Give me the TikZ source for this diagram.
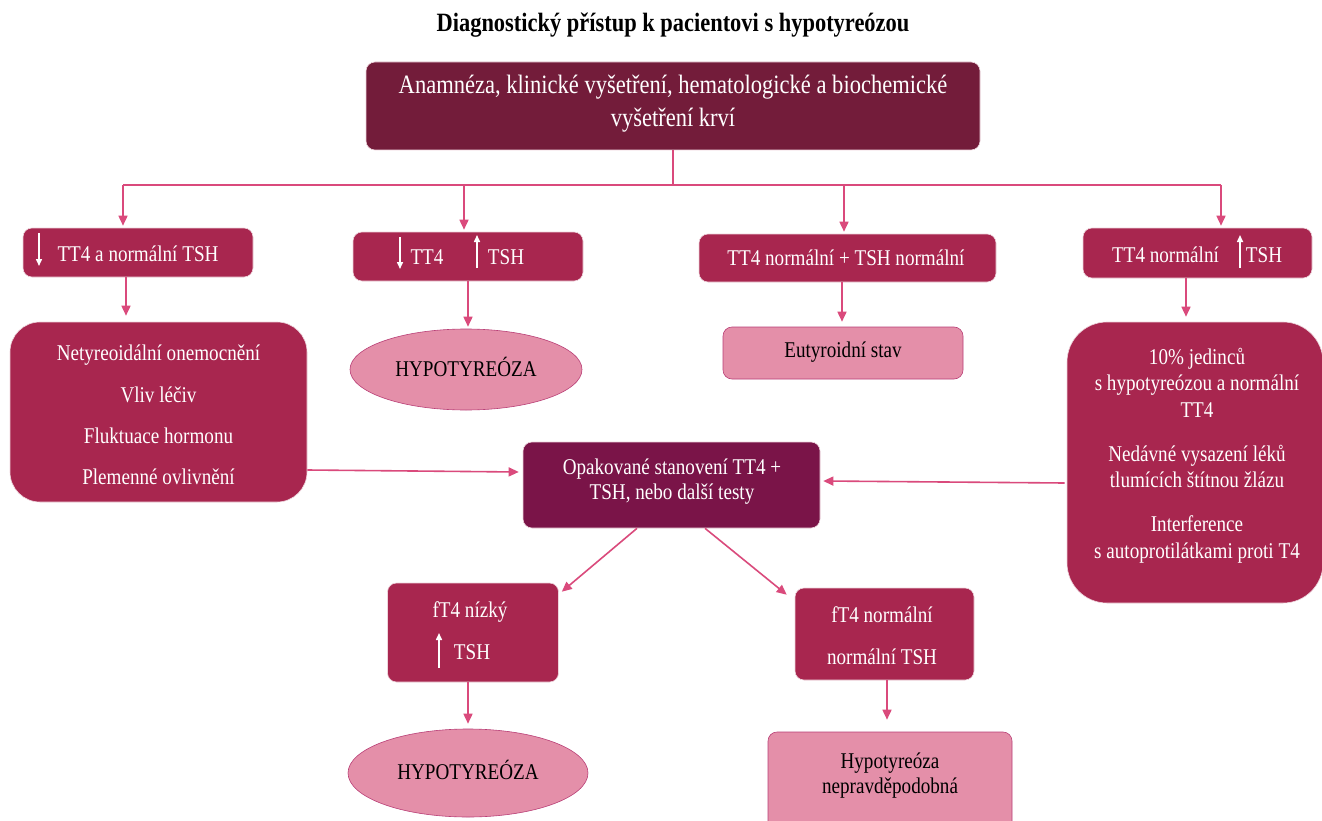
\documentclass[tikz,border=0pt]{standalone}
\usepackage{fontspec}
\setmainfont{Liberation Serif}[FakeStretch=0.85]
\usetikzlibrary{arrows.meta,shapes.geometric,calc}
\definecolor{topc}{HTML}{731C3A}
\definecolor{midc}{HTML}{A8264F}
\definecolor{cenc}{HTML}{7A1448}
\definecolor{lightc}{HTML}{E48FA9}
\definecolor{lightedge}{HTML}{B93F76}
\definecolor{arrc}{HTML}{DA4A7C}
\tikzset{
  basebox/.style={rounded corners=9pt, draw=white!80!midc, line width=0.6pt, inner sep=0pt, align=center},
  midbox/.style={basebox, fill=midc},
  topbox/.style={basebox, fill=topc},
  cenbox/.style={basebox, fill=cenc},
  pinkbox/.style={basebox, fill=lightc, draw=lightedge, text=black},
  pinkell/.style={ellipse, fill=lightc, draw=lightedge, line width=0.6pt, inner sep=0pt, text=black},
  wtxt/.style={text=white, align=center, inner sep=0pt, font=\fontsize{22.5}{26.5}\selectfont},
  btxt/.style={text=black, align=center, inner sep=0pt, font=\fontsize{22.5}{26.5}\selectfont},
  conn/.style={draw=arrc, line width=1.6pt, shorten >=2pt, -{Triangle[length=10pt,width=9pt]}},
  plain/.style={draw=arrc, line width=1.3pt},
  warr/.style={draw=white, line width=1.5pt, -{Triangle[length=7pt,width=6pt]}}
}
\begin{document}
\begin{tikzpicture}[x=1pt,y=-1pt]
\useasboundingbox (0,0) rectangle (1322,821);
\fill[white] (0,0) rectangle (1322,821);

% title
\node[inner sep=0pt, font=\bfseries\fontsize{26.4}{30}\selectfont] (title) at (673,25) {Diagnostický přístup k pacientovi s hypotyreózou};

% top box
\node[topbox, minimum width=614pt, minimum height=88pt] (top) at (673,106) {};
\node[wtxt, font=\fontsize{26.5}{33}\selectfont] (topt) at (673,104) {Anamnéza, klinické vyšetření, hematologické a biochemické\\vyšetření krví};

% first row
\node[midbox, minimum width=230pt, minimum height=49pt] (b1) at (138,252.5) {};
\node[wtxt] (b1t) at (138,254) {TT4 a normální TSH};
\coordinate (g1a) at (39,233); \coordinate (g1b) at (39,266);
\draw[warr] (g1a) -- (g1b);

\node[midbox, minimum width=230pt, minimum height=49pt] (b2) at (468,256.5) {};
\node[wtxt] (b2ta) at (427,257) {TT4};
\node[wtxt] (b2tb) at (506,257) {TSH};
\coordinate (g2a) at (400,237); \coordinate (g2b) at (400,269);
\draw[warr] (g2a) -- (g2b);
\coordinate (g3a) at (477,268); \coordinate (g3b) at (477,235);
\draw[warr] (g3a) -- (g3b);

\node[midbox, minimum width=297pt, minimum height=48pt] (b3) at (847.5,258) {};
\node[wtxt] (b3t) at (846,258) {TT4 normální + TSH normální};

\node[midbox, minimum width=229pt, minimum height=50pt] (b4) at (1197.5,253) {};
\node[wtxt] (b4ta) at (1165.5,255) {TT4 normální};
\node[wtxt] (b4tb) at (1264,255) {TSH};
\coordinate (g4a) at (1240,268); \coordinate (g4b) at (1240,235);
\draw[warr] (g4a) -- (g4b);

% second row
\node[midbox, rounded corners=30pt, minimum width=297pt, minimum height=180pt] (b5) at (158.5,412) {};
\node[wtxt, font=\fontsize{22.5}{41.3}\selectfont] (b5t) at (158.5,415) {Netyreoidální onemocnění\\Vliv léčiv\\Fluktuace hormonu\\Plemenné ovlivnění};

\node[pinkell, minimum width=232pt, minimum height=81pt] (e1) at (466,369.5) {};
\node[btxt] (e1t) at (466,367) {HYPOTYREÓZA};

\node[pinkbox, minimum width=240pt, minimum height=52pt] (eut) at (843,353) {};
\node[btxt] (eutt) at (843,352) {Eutyroidní stav};

\node[midbox, rounded corners=40pt, minimum width=256pt, minimum height=281pt] (b6) at (1195,462.5) {};
\node[wtxt] (b6t) at (1197,455.5) {10\% jedinců\\s hypotyreózou a normální\\TT4\\[17.5pt]Nedávné vysazení léků\\tlumících štítnou žlázu\\[17.5pt]Interference\\s autoprotilátkami proti T4};

% central
\node[cenbox, minimum width=297pt, minimum height=86pt] (cen) at (671.5,485) {};
\node[wtxt, font=\fontsize{22.5}{25}\selectfont] (cent) at (672,481.5) {Opakované stanovení TT4 +\\TSH, nebo další testy};

% third row
\node[midbox, minimum width=171pt, minimum height=99pt] (b7) at (473,632.5) {};
\node[wtxt] (b7ta) at (470,612) {fT4 nízký};
\node[wtxt] (b7tb) at (472,652) {TSH};
\coordinate (g7a) at (439,668); \coordinate (g7b) at (439,633);
\draw[warr] (g7a) -- (g7b);

\node[midbox, minimum width=179pt, minimum height=92pt] (b8) at (884.5,634) {};
\node[wtxt, font=\fontsize{22.5}{42}\selectfont] (b8t) at (882,636) {fT4 normální\\normální TSH};

% fourth row
\node[pinkell, minimum width=240pt, minimum height=88pt] (e2) at (468,773) {};
\node[btxt] (e2t) at (468,770) {HYPOTYREÓZA};

\node[pinkbox, minimum width=244pt, minimum height=118pt] (b9) at (890,791) {};
\node[btxt, font=\fontsize{22.5}{25}\selectfont] (b9t) at (890,775.5) {Hypotyreóza\\nepravděpodobná};

% connectors: top fan-out
\coordinate (hl) at (123,185);
\coordinate (h2) at (464,185);
\coordinate (h3) at (844,185);
\coordinate (hr) at (1221,185);
\draw[plain] (top.south) -- (top.south |- hl);
\draw[plain] (hl) -- (hr);
\draw[conn] (hl) -- (hl |- b1.north);
\draw[conn] (h2) -- (h2 |- b2.north);
\draw[conn] (h3) -- (h3 |- b3.north);
\draw[conn] (hr) -- (hr |- b4.north);

% first row to second row
\path (b1.south) ++(-12,0) coordinate (d1);
\draw[conn, shorten >=6pt] (d1) -- (d1 |- b5.north);
\path (b2.south) ++(0,0) coordinate (d2);
\draw[conn] (d2) -- (d2 |- e1.north);
\path (b3.south) ++(-5.5,0) coordinate (d3);
\draw[conn, shorten >=5pt] (d3) -- (d3 |- eut.north);
\path (b4.south) ++(-11.5,0) coordinate (d4);
\draw[conn, shorten >=5pt] (d4) -- (d4 |- b6.north);

% side arrows into central box
\path (b5.east) ++(0,58) coordinate (s5);
\path (cen.west) ++(-4,-13) coordinate (s5e);
\draw[conn, shorten >=0pt] (s5) -- (s5e);
\path (b6.west) ++(-2,20.5) coordinate (s6);
\path (cen.east) ++(3,-4) coordinate (s6e);
\draw[conn, shorten >=0pt] (s6) -- (s6e);

% diagonals
\path (cen.south) ++(-34.5,0) coordinate (c7);
\path (b7.north east) ++(3,9) coordinate (c7e);
\draw[conn, shorten >=0pt] (c7) -- (c7e);
\path (cen.south) ++(33.5,0) coordinate (c8);
\path (b8.north west) ++(-8,7) coordinate (c8e);
\draw[conn, shorten >=0pt] (c8) -- (c8e);

% third to fourth row
\path (b7.south) ++(-5,0) coordinate (d7);
\draw[conn, shorten >=5pt] (d7) -- (d7 |- e2.north);
\path (b8.south) ++(2.5,0) coordinate (d8);
\draw[conn, shorten >=12pt] (d8) -- (d8 |- b9.north);
\end{tikzpicture}
\end{document}
